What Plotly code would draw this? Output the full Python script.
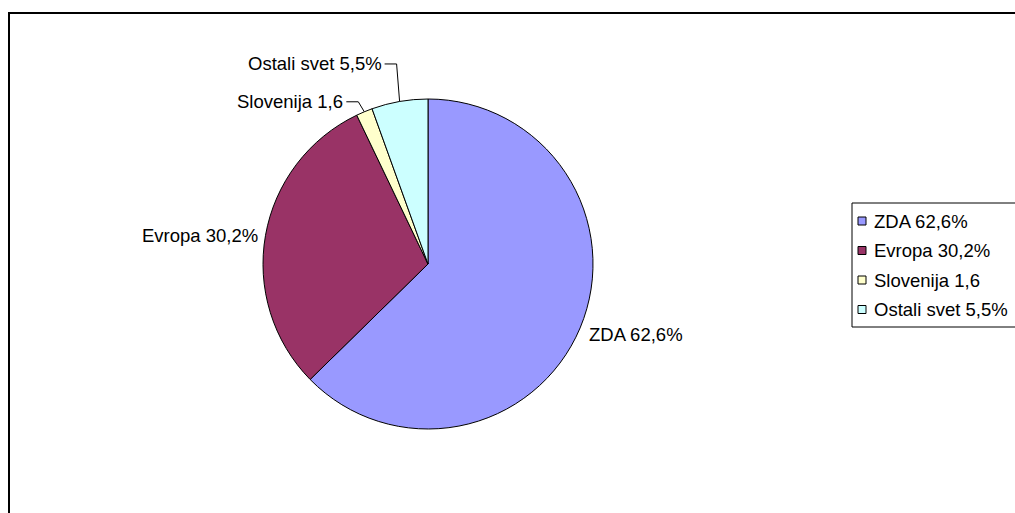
import math
import plotly.graph_objects as go

# ---- data ----
labels = ["ZDA 62,6%", "Evropa 30,2%", "Slovenija 1,6", "Ostali svet 5,5%"]
values = [62.6, 30.2, 1.6, 5.5]
colors = ["#9999FF", "#993366", "#FFFFCC", "#CCFFFF"]

# ---- layout / style ----
W, H = 1015, 513
CX, CY, R = 428, 264, 165
FONT = dict(family="Liberation Sans, Arial, sans-serif", size=18.5, color="#000000")

# label placement style per slice: (dx, dy) from the rim point, anchor, leader elbow offset or None
label_style = [
    dict(off=(7, 7), anchor="left", elbow=None),
    dict(off=(-5.5, 0), anchor="right", elbow=None),
    dict(off=None, anchor="right", elbow=(-6, -10)),
    dict(off=None, anchor="right", elbow=(-3, -37.5)),
]
HOR = 12  # horizontal leader length


def px(x):
    return x / W


def py(y):
    return 1 - y / H


fig = go.Figure()
fig.add_trace(go.Pie(
    labels=labels,
    values=values,
    sort=False,
    direction="clockwise",
    rotation=0,
    marker=dict(colors=colors, line=dict(color="#000000", width=1)),
    textinfo="none",
    hoverinfo="label",
    domain=dict(x=[px(CX - R), px(CX + R)], y=[py(CY + R), py(CY - R)]),
    showlegend=False,
))

shapes = []
annotations = []

# chart area border
shapes.append(dict(type="rect", xref="paper", yref="paper",
                   x0=px(9), x1=px(W + 10), y0=py(H + 10), y1=py(13),
                   line=dict(color="#000000", width=2), fillcolor="rgba(0,0,0,0)"))

total = sum(values)
cum = 0.0
for lab, v, st in zip(labels, values, label_style):
    theta = 2 * math.pi * (cum + v / 2) / total
    cum += v
    rx = CX + R * math.sin(theta)
    ry = CY - R * math.cos(theta)
    if st["elbow"] is None:
        tx, ty = rx + st["off"][0], ry + st["off"][1]
    else:
        ex, ey = rx + st["elbow"][0], ry + st["elbow"][1]
        hx = ex - HOR
        shapes.append(dict(type="path", xref="paper", yref="paper",
                           path=f"M {px(rx)},{py(ry)} L {px(ex)},{py(ey)} L {px(hx)},{py(ey)}",
                           line=dict(color="#000000", width=1)))
        tx, ty = hx - 1, ey
    annotations.append(dict(text=lab, x=px(tx), y=py(ty), xref="paper", yref="paper",
                            xanchor=st["anchor"], yanchor="middle", showarrow=False,
                            font=FONT))

# legend (drawn from labels/colors)
LX0, LY0, LY1 = 852, 203, 327
ITEM0, STEP = 221, 29.5
shapes.append(dict(type="rect", xref="paper", yref="paper",
                   x0=px(LX0), x1=px(W + 10), y0=py(LY1), y1=py(LY0),
                   line=dict(color="#000000", width=1), fillcolor="#FFFFFF"))
for i, (lab, c) in enumerate(zip(labels, colors)):
    yc = ITEM0 + i * STEP
    shapes.append(dict(type="rect", xref="paper", yref="paper",
                       x0=px(858), x1=px(866), y0=py(yc + 4), y1=py(yc - 4),
                       line=dict(color="#000000", width=1), fillcolor=c))
    annotations.append(dict(text=lab, x=px(872), y=py(yc), xref="paper", yref="paper",
                            xanchor="left", yanchor="middle", showarrow=False, font=FONT))

fig.update_layout(
    width=W, height=H,
    margin=dict(l=0, r=0, t=0, b=0),
    paper_bgcolor="#FFFFFF",
    plot_bgcolor="#FFFFFF",
    shapes=shapes,
    annotations=annotations,
    showlegend=False,
)

fig.write_html("out.html",
               config={"displayModeBar": False},
               post_script="document.body.style.margin='0';document.body.style.overflow='hidden';")
